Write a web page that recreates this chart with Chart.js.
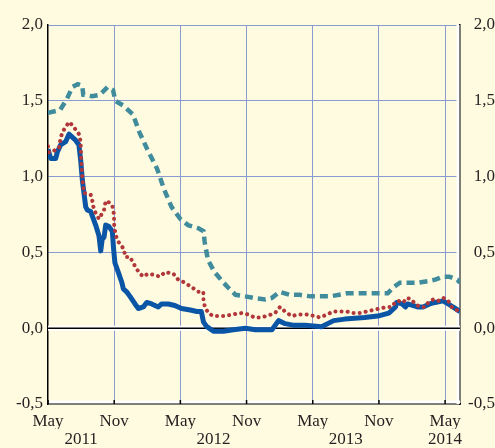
<!DOCTYPE html>
<html>
<head>
<meta charset="utf-8">
<script src="https://cdn.jsdelivr.net/npm/chart.js@4.4.1/dist/chart.umd.min.js"></script>
<style>
  html, body { margin: 0; padding: 0; background: #fffbe0; }
  #wrap { width: 495px; height: 448px; }
</style>
</head>
<body>
<div id="wrap"><canvas id="spreadChart" width="495" height="448"></canvas></div>
<script>
// x values are months since May 2011
const tealMonths = [0, 1.1, 1.7, 2.2, 2.7, 3.1, 3.2, 4.0, 4.7, 5.4, 5.9, 6.1, 6.8, 7.7, 8.3, 9.0, 9.9, 10.5, 11.2, 12.0, 12.7, 13.6, 14.1, 14.2, 14.5, 15.1, 15.8, 16.3, 17.0, 17.9, 18.6, 19.7, 20.3, 21.0, 21.9, 22.8, 23.8, 24.7, 25.6, 27.1, 28.3, 29.2, 30.1, 30.8, 31.3, 31.9, 32.6, 33.5, 34.4, 35.1, 35.8, 36.4, 37.1, 37.35];
const tealValues = [1.42, 1.44, 1.51, 1.59, 1.61, 1.60, 1.54, 1.53, 1.54, 1.59, 1.57, 1.50, 1.47, 1.41, 1.29, 1.18, 1.05, 0.92, 0.80, 0.72, 0.68, 0.66, 0.64, 0.57, 0.45, 0.37, 0.31, 0.27, 0.22, 0.21, 0.20, 0.19, 0.20, 0.24, 0.22, 0.22, 0.21, 0.21, 0.21, 0.23, 0.23, 0.23, 0.23, 0.23, 0.27, 0.30, 0.30, 0.30, 0.31, 0.32, 0.34, 0.34, 0.32, 0.30];

const redMonths = [0, 0.09, 0.39, 0.7, 1.0, 1.15, 1.45, 1.9, 2.2, 2.51, 2.81, 2.96, 3.0, 3.11, 3.26, 3.56, 3.87, 4.02, 4.17, 4.47, 4.62, 4.92, 5.08, 5.23, 5.53, 5.83, 5.98, 6.0, 6.1, 6.28, 6.59, 6.89, 7.0, 7.43, 7.73, 8.04, 8.34, 8.64, 9.09, 9.7, 10.15, 10.61, 11.36, 11.81, 12.42, 13.03, 13.63, 14.08, 14.1, 14.23, 14.53, 14.99, 15.6, 16.0, 16.65, 17.56, 18.16, 18.77, 19.2, 19.83, 20.58, 21.03, 21.49, 22.09, 22.69, 23.45, 24.2, 24.66, 25.27, 25.87, 26.63, 27.08, 27.68, 28.29, 28.89, 29.49, 30.1, 30.71, 31.16, 31.46, 31.76, 32.21, 32.52, 32.97, 33.27, 33.73, 34.18, 34.48, 34.93, 35.38, 35.84, 36.29, 36.6, 37.05, 37.35];
const redValues = [1.20, 1.16, 1.16, 1.18, 1.19, 1.26, 1.31, 1.36, 1.34, 1.31, 1.28, 1.23, 1.13, 1.00, 0.89, 0.89, 0.88, 0.84, 0.78, 0.74, 0.72, 0.76, 0.78, 0.84, 0.83, 0.81, 0.75, 0.68, 0.63, 0.58, 0.55, 0.52, 0.47, 0.47, 0.43, 0.39, 0.36, 0.34, 0.36, 0.35, 0.34, 0.37, 0.36, 0.32, 0.30, 0.27, 0.24, 0.24, 0.18, 0.14, 0.10, 0.08, 0.08, 0.08, 0.09, 0.10, 0.09, 0.07, 0.07, 0.08, 0.10, 0.14, 0.11, 0.08, 0.09, 0.09, 0.08, 0.07, 0.09, 0.11, 0.11, 0.11, 0.10, 0.10, 0.11, 0.12, 0.13, 0.14, 0.14, 0.17, 0.18, 0.17, 0.20, 0.19, 0.16, 0.14, 0.14, 0.17, 0.19, 0.18, 0.20, 0.18, 0.14, 0.12, 0.11];

const blueMonths = [0, 0.24, 0.7, 0.84, 1.15, 1.6, 1.9, 2.2, 2.5, 2.8, 2.96, 3.11, 3.26, 3.42, 3.56, 3.87, 4.32, 4.62, 4.78, 4.92, 5.08, 5.23, 5.53, 5.83, 5.95, 6.07, 6.37, 6.7, 6.83, 7.13, 7.43, 7.89, 8.19, 8.64, 8.95, 9.4, 10.0, 10.3, 10.9, 11.5, 12.1, 12.9, 13.5, 13.9, 14.1, 14.4, 15.0, 15.9, 16.8, 17.9, 18.8, 20.3, 20.9, 21.5, 22.2, 23.3, 24.8, 25.9, 26.9, 28.7, 29.9, 30.9, 31.5, 31.6, 32.1, 32.4, 32.6, 33.5, 34.0, 34.6, 35.1, 35.8, 36.3, 36.7, 37.35];
const blueValues = [1.18, 1.12, 1.12, 1.16, 1.21, 1.23, 1.28, 1.26, 1.24, 1.21, 1.11, 0.98, 0.89, 0.80, 0.78, 0.77, 0.68, 0.61, 0.51, 0.59, 0.60, 0.68, 0.67, 0.64, 0.52, 0.43, 0.37, 0.30, 0.26, 0.24, 0.21, 0.16, 0.13, 0.14, 0.17, 0.16, 0.14, 0.16, 0.16, 0.15, 0.13, 0.12, 0.11, 0.11, 0.04, 0.01, -0.02, -0.02, -0.01, 0.00, -0.01, -0.01, 0.05, 0.03, 0.02, 0.02, 0.01, 0.05, 0.06, 0.07, 0.08, 0.10, 0.14, 0.17, 0.16, 0.14, 0.16, 0.14, 0.14, 0.16, 0.17, 0.18, 0.16, 0.14, 0.11];

const monthTicks = [0, 6, 12, 18, 24, 30, 36];
const monthLabels = ['May', 'Nov', 'May', 'Nov', 'May', 'Nov', 'May'];
const yearTicks = [3, 15, 27, 36];
const yearLabels = ['2011', '2012', '2013', '2014'];
const valueTicks = [-0.5, 0, 0.5, 1.0, 1.5, 2.0];

const gridBlue = '#8a9bd2';
const textColor = '#231f20';
const serif = { family: "'Liberation Serif', 'Times New Roman', serif", size: 17 };

function toPoints(xs, ys) {
  return xs.map((x, i) => ({ x: x, y: ys[i] }));
}

function commaLabel(v) {
  return v.toFixed(1).replace('.', ',');
}

// zero line with white halo, white edges by the axes and small inward ticks
const decorations = {
  id: 'decorations',
  beforeDatasetsDraw(chart) {
    const { ctx, chartArea: a, scales } = chart;
    const y0 = scales.y.getPixelForValue(0);
    ctx.save();
    ctx.strokeStyle = '#ffffff';
    ctx.lineWidth = 3;
    ctx.beginPath();
    ctx.moveTo(a.left + 1, a.bottom - 2);
    ctx.lineTo(a.right, a.bottom - 2);
    ctx.moveTo(a.right - 2, a.top);
    ctx.lineTo(a.right - 2, a.bottom);
    ctx.stroke();
    ctx.lineWidth = 5;
    ctx.beginPath();
    ctx.moveTo(a.left, y0);
    ctx.lineTo(a.right, y0);
    ctx.stroke();
    ctx.strokeStyle = '#000000';
    ctx.lineWidth = 1.5;
    ctx.beginPath();
    ctx.moveTo(a.left, y0);
    ctx.lineTo(a.right, y0);
    ctx.stroke();
    ctx.restore();
  },
  afterDraw(chart) {
    const { ctx, chartArea: a, scales } = chart;
    ctx.save();
    ctx.strokeStyle = '#000000';
    ctx.lineWidth = 1.5;
    ctx.beginPath();
    monthTicks.forEach(v => {
      const x = scales.x.getPixelForValue(v);
      ctx.moveTo(x, a.bottom);
      ctx.lineTo(x, a.bottom - 4);
    });
    ctx.stroke();
    ctx.restore();
  }
};

const ctx = document.getElementById('spreadChart').getContext('2d');

new Chart(ctx, {
  type: 'line',
  data: {
    datasets: [
      {
        label: 'red',
        data: toPoints(redMonths, redValues),
        borderColor: '#b2373a',
        borderWidth: 4,
        borderDash: [0.1, 6],
        borderCapStyle: 'round',
        pointRadius: 0,
        tension: 0,
        fill: false
      },
      {
        label: 'blue',
        data: toPoints(blueMonths, blueValues),
        borderColor: '#0b55a6',
        borderWidth: 5,
        borderJoinStyle: 'round',
        pointRadius: 0,
        tension: 0,
        fill: false
      },
      {
        label: 'teal',
        data: toPoints(tealMonths, tealValues),
        borderColor: '#408c9c',
        borderWidth: 4.5,
        borderDash: [8, 5],
        pointRadius: 0,
        tension: 0,
        fill: false
      }
    ]
  },
  options: {
    responsive: false,
    animation: false,
    parsing: true,
    layout: { padding: { top: 25, left: 0, right: 0, bottom: 0 } },
    plugins: {
      legend: { display: false },
      tooltip: { enabled: false }
    },
    scales: {
      x: {
        type: 'linear',
        position: 'bottom',
        min: 0,
        max: 37.35,
        afterBuildTicks: axis => { axis.ticks = monthTicks.map(v => ({ value: v })); },
        afterFit: axis => { axis.height = 25; },
        grid: {
          drawTicks: false,
          color: c => (c.tick && c.tick.value === 0 ? 'rgba(0,0,0,0)' : gridBlue),
          lineWidth: 1
        },
        border: { display: true, color: '#000000', width: 1.5 },
        ticks: {
          autoSkip: false,
          maxRotation: 0,
          padding: 7,
          color: textColor,
          font: serif,
          callback: (v, i) => monthLabels[i]
        }
      },
      xYear: {
        type: 'linear',
        position: 'bottom',
        min: 0,
        max: 37.35,
        afterBuildTicks: axis => { axis.ticks = yearTicks.map(v => ({ value: v })); },
        afterFit: axis => { axis.height = 19; },
        grid: { display: false, drawTicks: false },
        border: { display: false },
        ticks: {
          autoSkip: false,
          maxRotation: 0,
          padding: 0,
          color: textColor,
          font: serif,
          callback: (v, i) => yearLabels[i]
        }
      },
      y: {
        position: 'left',
        min: -0.5,
        max: 2.0,
        afterBuildTicks: axis => { axis.ticks = valueTicks.map(v => ({ value: v })); },
        afterFit: axis => { axis.width = 48; },
        grid: {
          drawTicks: false,
          color: c => (c.tick && (c.tick.value === 0 || c.tick.value === -0.5) ? 'rgba(0,0,0,0)' : gridBlue),
          lineWidth: 1
        },
        border: { display: true, color: '#000000', width: 1.5 },
        ticks: {
          padding: 5,
          color: textColor,
          font: serif,
          callback: v => commaLabel(v)
        }
      },
      y2: {
        position: 'right',
        min: -0.5,
        max: 2.0,
        afterBuildTicks: axis => { axis.ticks = valueTicks.map(v => ({ value: v })); },
        afterFit: axis => { axis.width = 35; },
        grid: { display: false, drawTicks: false },
        border: { display: true, color: '#000000', width: 1.5 },
        ticks: {
          padding: 6,
          crossAlign: 'far',
          color: textColor,
          font: serif,
          callback: v => commaLabel(v)
        }
      }
    }
  },
  plugins: [decorations]
});
</script>
</body>
</html>
